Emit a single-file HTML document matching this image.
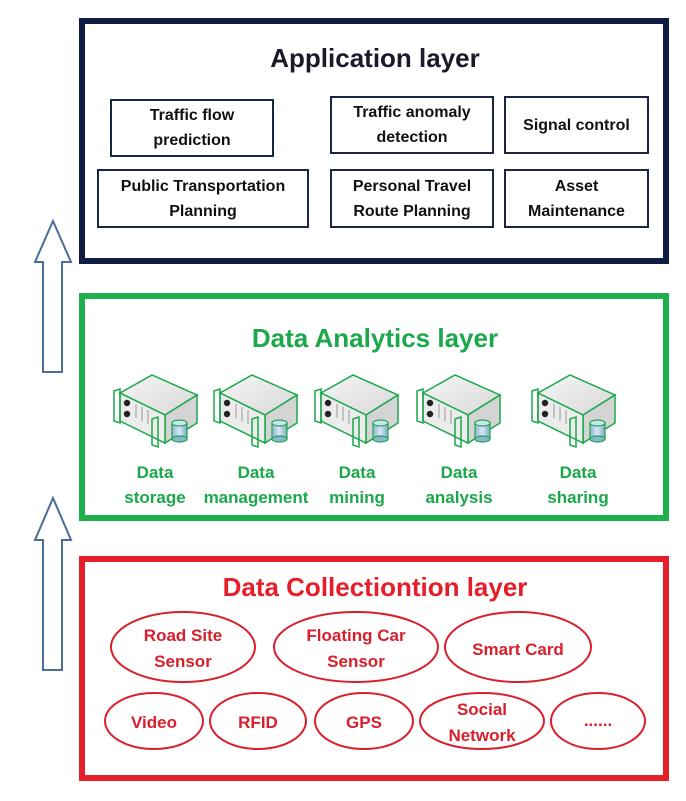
<!DOCTYPE html>
<html><head><meta charset="utf-8"><style>
html,body{margin:0;padding:0;background:#fff;}
body{width:686px;height:801px;position:relative;overflow:hidden;font-family:"Liberation Sans",sans-serif;}
.t{position:absolute;text-align:center;font-weight:bold;white-space:nowrap;}
.ib{position:absolute;box-sizing:border-box;border:2px solid #1b2440;display:flex;align-items:center;justify-content:center;text-align:center;font-size:16px;font-weight:bold;line-height:25px;color:#111;white-space:nowrap;}
</style></head><body>
<svg width="686" height="801" style="position:absolute;left:0;top:0">
  <defs>
    <linearGradient id="tp" x1="0" y1="0" x2="1" y2="1"><stop offset="0" stop-color="#f6f6f6"/><stop offset="1" stop-color="#d8d8d8"/></linearGradient>
    <linearGradient id="cy" x1="0" y1="0" x2="1" y2="0"><stop offset="0" stop-color="#8fb3d6"/><stop offset="0.5" stop-color="#d8e8f6"/><stop offset="1" stop-color="#7fa4c8"/></linearGradient>
    <g id="srv">
      <polygon points="8,20 40,2 85,22 53,42" fill="url(#tp)" stroke="#1aa84a" stroke-width="1.5"/>
      <polygon points="53,42 85,22 85,50 53,70" fill="#d4d4d4" stroke="#1aa84a" stroke-width="1.5"/>
      <polygon points="8,20 53,42 53,70 8,48" fill="#ececec" stroke="#1aa84a" stroke-width="1.5"/>
      <path d="M2,18 L8,16 L8,50 L2,48 Z" fill="none" stroke="#1aa84a" stroke-width="1.5"/>
      <path d="M40,46 L46,44 L46,74 L40,72 Z" fill="none" stroke="#1aa84a" stroke-width="1.5"/>
      <circle cx="15" cy="30" r="3.2" fill="#222"/>
      <circle cx="15" cy="41" r="3.2" fill="#222"/>
      <line x1="24" y1="31" x2="24" y2="45" stroke="#999"/>
      <line x1="30" y1="34" x2="30" y2="48" stroke="#999"/>
      <line x1="36" y1="37" x2="36" y2="51" stroke="#999"/>
      <rect x="60" y="50" width="15" height="16" fill="url(#cy)" stroke="#1aa84a" stroke-width="1.2"/>
      <ellipse cx="67.5" cy="50" rx="7.5" ry="3" fill="#cfe2f3" stroke="#1aa84a" stroke-width="1.2"/>
      <ellipse cx="67.5" cy="66" rx="7.5" ry="3" fill="#8fb3d6" stroke="#1aa84a" stroke-width="1.2"/>
    </g>
  </defs>
  <polygon points="53,221 71,262 62,262 62,372 43,372 43,262 35,262" fill="#fff" stroke="#4a6d9a" stroke-width="2"/>
  <polygon points="53,498 71,540 62,540 62,670 43,670 43,540 35,540" fill="#fff" stroke="#4a6d9a" stroke-width="2"/>
  <rect x="82" y="21" width="584" height="240" fill="none" stroke="#0f1d45" stroke-width="6"/>
  <rect x="82" y="296" width="584" height="222" fill="none" stroke="#1db04c" stroke-width="6"/>
  <rect x="82" y="559" width="584" height="219" fill="none" stroke="#e61e2a" stroke-width="6"/>
  <use href="#srv" x="112" y="373"/>
  <use href="#srv" x="212" y="373"/>
  <use href="#srv" x="313" y="373"/>
  <use href="#srv" x="415" y="373"/>
  <use href="#srv" x="530" y="373"/>
  <g fill="none" stroke="#d91f2b" stroke-width="2">
    <ellipse cx="183" cy="647" rx="72" ry="35"/>
    <ellipse cx="356" cy="647" rx="82" ry="35"/>
    <ellipse cx="518" cy="647" rx="73" ry="35"/>
    <ellipse cx="154" cy="721" rx="49" ry="28"/>
    <ellipse cx="258" cy="721" rx="48" ry="28"/>
    <ellipse cx="364" cy="721" rx="49" ry="28"/>
    <ellipse cx="482" cy="721" rx="62" ry="28"/>
    <ellipse cx="598" cy="721" rx="47" ry="28"/>
  </g>
  <g font-family="Liberation Sans, sans-serif" font-weight="bold" font-size="17" fill="#d91f2b" text-anchor="middle">
    <text x="183" y="641">Road Site</text><text x="183" y="667">Sensor</text>
    <text x="356" y="641">Floating Car</text><text x="356" y="667">Sensor</text>
    <text x="518" y="655">Smart Card</text>
    <text x="154" y="728">Video</text>
    <text x="258" y="728">RFID</text>
    <text x="364" y="728">GPS</text>
    <text x="482" y="715">Social</text><text x="482" y="741">Network</text>
    <text x="598" y="726">......</text>
  </g>
  <g font-family="Liberation Sans, sans-serif" font-weight="bold" font-size="17" fill="#1aa84a" text-anchor="middle">
    <text x="155" y="478">Data</text><text x="155" y="503">storage</text>
    <text x="256" y="478">Data</text><text x="256" y="503">management</text>
    <text x="357" y="478">Data</text><text x="357" y="503">mining</text>
    <text x="459" y="478">Data</text><text x="459" y="503">analysis</text>
    <text x="578" y="478">Data</text><text x="578" y="503">sharing</text>
  </g>
</svg>
<div class="t" style="left:80px;width:590px;top:43px;font-size:26px;color:#1a1a2a;">Application layer</div>
<div class="t" style="left:80px;width:590px;top:323px;font-size:26px;color:#1aa84a;">Data Analytics layer</div>
<div class="t" style="left:80px;width:590px;top:572px;font-size:26px;color:#e61e2a;">Data Collectiontion layer</div>
<div class="ib" style="left:110px;top:99px;width:164px;height:58px;">Traffic flow<br>prediction</div>
<div class="ib" style="left:330px;top:96px;width:164px;height:58px;">Traffic anomaly<br>detection</div>
<div class="ib" style="left:504px;top:96px;width:145px;height:58px;">Signal control</div>
<div class="ib" style="left:97px;top:169px;width:212px;height:59px;">Public Transportation<br>Planning</div>
<div class="ib" style="left:330px;top:169px;width:164px;height:59px;">Personal Travel<br>Route Planning</div>
<div class="ib" style="left:504px;top:169px;width:145px;height:59px;">Asset<br>Maintenance</div>
</body></html>
